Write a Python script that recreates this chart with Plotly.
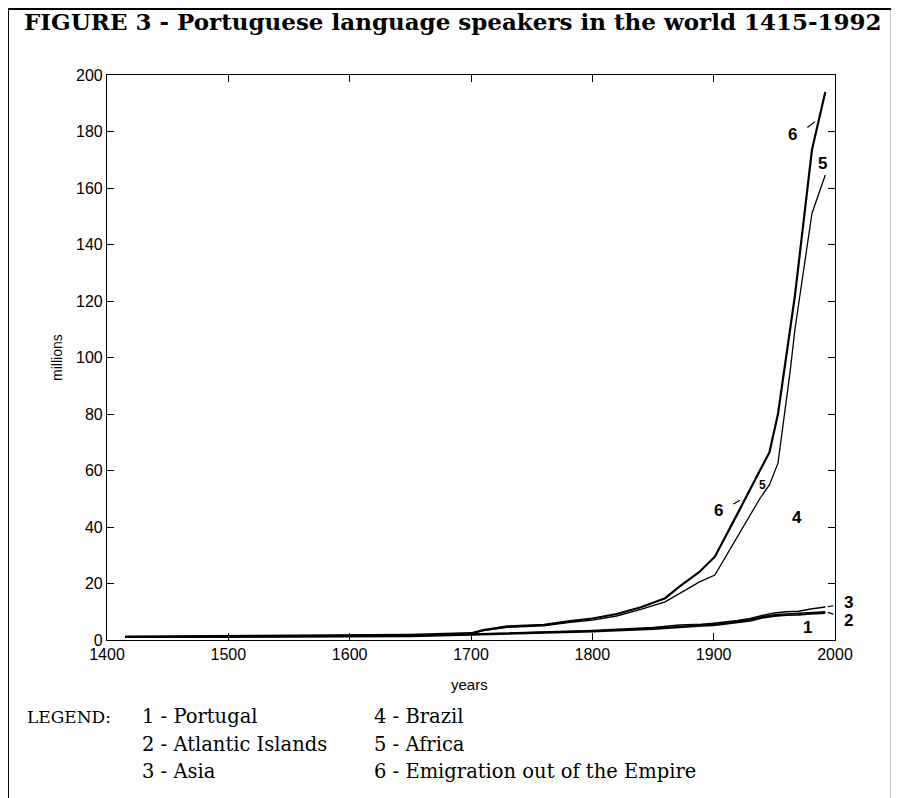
import plotly.graph_objects as go

# stacked totals (millions)
years_low = [1415, 1500, 1550, 1600, 1650, 1700, 1750, 1800, 1850, 1872, 1890, 1900,
             1920, 1930, 1940, 1950, 1960, 1970, 1980, 1992]
portugal = [1.0, 1.1, 1.2, 1.1, 1.3, 1.8, 2.3, 3.0, 3.9, 4.6, 5.0, 5.2,
            6.2, 6.8, 7.8, 8.5, 8.8, 8.9, 9.3, 9.5]
atlantic = [1.0, 1.2, 1.3, 1.2, 1.4, 2.0, 2.5, 3.2, 4.1, 4.9, 5.3, 5.5,
            6.5, 7.2, 8.2, 8.9, 9.2, 9.4, 9.7, 10.0]
asia = [1.1, 1.3, 1.4, 1.3, 1.5, 2.1, 2.7, 3.4, 4.4, 5.3, 5.6, 5.9,
        6.9, 7.6, 8.7, 9.6, 10.0, 10.2, 11.0, 11.7]

years_high = [1415, 1500, 1600, 1650, 1700, 1710, 1730, 1760, 1780, 1800, 1820, 1840,
              1860, 1872, 1888, 1901, 1920, 1938, 1946, 1953, 1963, 1967, 1981, 1992]
africa = [1.1, 1.3, 1.4, 1.7, 2.2, 3.3, 4.5, 5.0, 6.2, 7.0, 8.5, 10.8,
          13.5, 16.6, 20.5, 23.0, 37.0, 50.0, 55.0, 62.6, 95.0, 110.0, 151.0, 164.6]
emigration = [1.2, 1.4, 1.5, 1.8, 2.4, 3.5, 4.8, 5.4, 6.6, 7.6, 9.2, 11.6,
              14.8, 19.0, 24.0, 29.5, 45.0, 60.0, 66.5, 80.0, 110.0, 122.0, 173.5, 194.0]

legend_rows = [["1 - Portugal", "4 - Brazil"],
               ["2 - Atlantic Islands", "5 - Africa"],
               ["3 - Asia", "6 - Emigration out of the Empire"]]

fig = go.Figure()
for ys, yv, w in [(years_low, portugal, 1.8), (years_low, atlantic, 1.5),
                  (years_low, asia, 1.5), (years_high, africa, 1.3),
                  (years_high, emigration, 2.2)]:
    fig.add_trace(go.Scatter(x=ys, y=yv, mode='lines',
                             line=dict(color='black', width=w), showlegend=False))

# curve labels inside the plot: (x, y, text, size)
lab_family = 'Liberation Sans, Arial'
curve_labels = [
    (1964.6, 178.8, '6', 17), (1990, 168.8, '5', 17),
    (1903.6, 46, '6', 17), (1940, 54.9, '5', 12),
    (1968.7, 43.2, '4', 17), (1977, 4.6, '1', 17),
]
for x, y, t, s in curve_labels:
    fig.add_annotation(x=x, y=y, text='<b>' + t + '</b>', showarrow=False,
                       font=dict(family=lab_family, size=s, color='black'))
# labels right of the axes (paper coords, data range would hide them)
for x, y, t in [(1.018, 0.067, '3'), (1.019, 0.035, '2')]:
    fig.add_annotation(x=x, y=y, xref='paper', yref='paper', text='<b>' + t + '</b>',
                       xanchor='center', yanchor='middle', showarrow=False,
                       font=dict(family=lab_family, size=17, color='black'))

# small pointer marks: (tail x, tail y, head x, head y)
pointers = [(1976, 181, 1983.5, 183.5), (1915, 47.8, 1921.7, 49.5),
            (2000, 12.2, 1994, 11.8), (2000, 9.0, 1994, 9.8)]
for ax, ay, x, y in pointers:
    fig.add_annotation(x=x, y=y, ax=ax, ay=ay, axref='x', ayref='y', text='',
                       showarrow=True, arrowhead=0, arrowwidth=1.2,
                       arrowcolor='black', standoff=0, startstandoff=0)

serif = 'DejaVu Serif'
fig.add_annotation(x=0.475, y=1.094, xref='paper', yref='paper', showarrow=False,
                   xanchor='center', yanchor='middle',
                   text='<b>FIGURE 3 - Portuguese language speakers in the world 1415-1992</b>',
                   font=dict(family=serif, size=23, color='black'))

fig.add_annotation(x=-0.1126, y=-0.136, xref='paper', yref='paper', xanchor='left',
                   yanchor='middle', showarrow=False, text='LEGEND:',
                   font=dict(family=serif, size=17, color='black'))
for i, row in enumerate(legend_rows):
    for j, txt in enumerate(row):
        fig.add_annotation(x=[0.0453, 0.364][j], y=-0.136 - i * 0.0487,
                           xref='paper', yref='paper', xanchor='left',
                           yanchor='middle', showarrow=False, text=txt,
                           font=dict(family=serif, size=19.5, color='black'))

# axis titles
fig.add_annotation(x=0.4986, y=-0.079, xref='paper', yref='paper', showarrow=False,
                   xanchor='center', yanchor='middle',
                   text='years', font=dict(family=lab_family, size=15, color='black'))
fig.add_annotation(x=-0.0687, y=0.501, xref='paper', yref='paper', showarrow=False,
                   xanchor='center', yanchor='middle', text='millions', textangle=-90,
                   font=dict(family=lab_family, size=14, color='black'))

# frame around whole figure
for x0, y0, x1, y1 in [(-0.136, -0.3, -0.136, 1.117), (-0.136, 1.117, 1.078, 1.117),
                       (1.078, -0.3, 1.078, 1.117)]:
    fig.add_shape(type='line', xref='paper', yref='paper', x0=x0, y0=y0, x1=x1, y1=y1,
                  line=dict(color='black', width=2))

axis_font = dict(family='Liberation Sans, Arial', size=16, color='black')
fig.update_xaxes(range=[1400, 2000], tickvals=list(range(1400, 2001, 100)),
                 ticks='inside', ticklen=7, tickcolor='black', showline=True,
                 linecolor='black', linewidth=1.2, mirror='ticks', showgrid=False,
                 zeroline=False, tickfont=axis_font)
fig.update_yaxes(range=[0, 200], tickvals=list(range(0, 201, 20)),
                 ticks='inside', ticklen=7, tickcolor='black', showline=True,
                 linecolor='black', linewidth=1.2, mirror='ticks', showgrid=False,
                 zeroline=False, tickfont=axis_font)
# page body adds 8px offset, so the figure is 8px smaller on each side
fig.update_layout(width=891, height=790, plot_bgcolor='white', paper_bgcolor='white',
                  margin=dict(l=99, r=64, t=67, b=158), showlegend=False)

fig.write_html("out.html")
